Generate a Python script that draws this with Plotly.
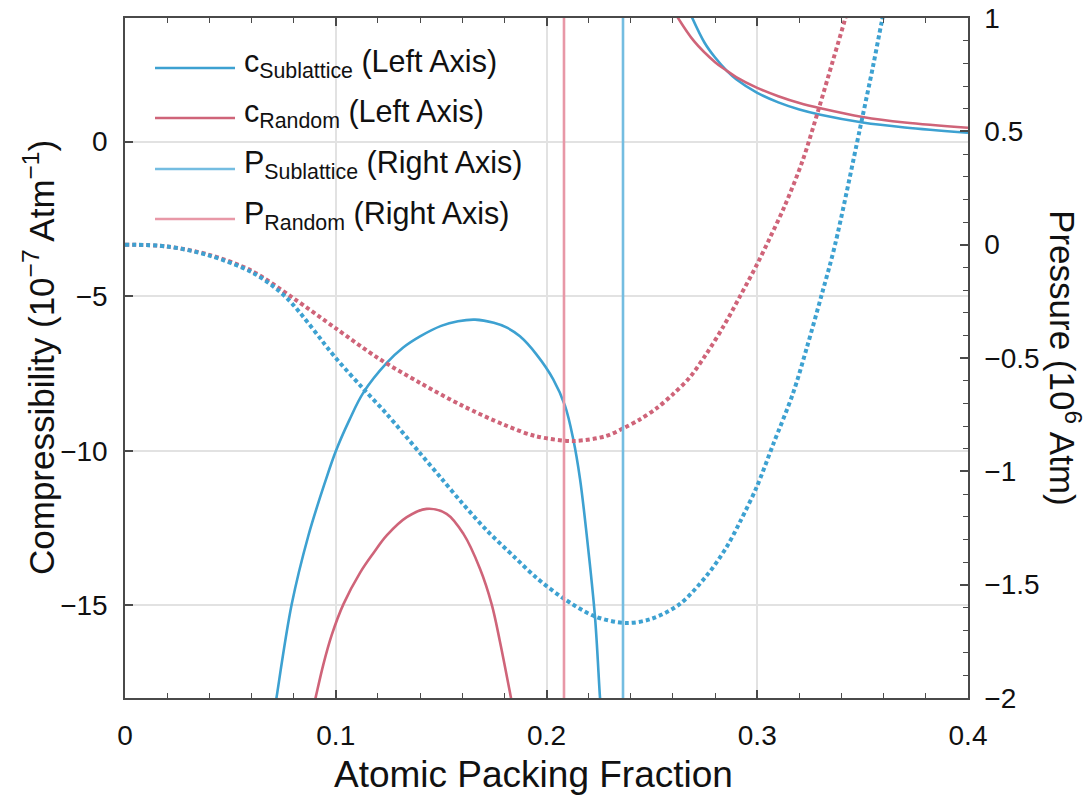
import plotly.graph_objects as go

# ---------------- data ----------------
# Compressibility, sublattice (left axis), lower branch
c_sub_lo_x = [0.0712, 0.0720, 0.0791, 0.0870, 0.0950, 0.1001, 0.1065, 0.1131, 0.1242, 0.1320, 0.1400,
              0.1500, 0.1580, 0.1661, 0.1750, 0.1810, 0.1874, 0.1953, 0.2032, 0.2088, 0.2127, 0.2159,
              0.2191, 0.2230, 0.2254, 0.2258]
c_sub_lo_y = [-18.3, -17.94, -14.97, -12.75, -11.0, -10.0, -9.0, -8.12, -7.16, -6.66, -6.30,
              -5.96, -5.81, -5.76, -5.86, -6.01, -6.30, -6.89, -7.69, -8.55, -9.63, -10.91,
              -12.74, -15.37, -18.0, -18.3]
# Compressibility, sublattice, upper branch
c_sub_hi_x = [0.2685, 0.275, 0.280, 0.2856, 0.290, 0.300, 0.310, 0.320, 0.330, 0.350, 0.370, 0.400]
c_sub_hi_y = [4.1, 3.2, 2.72, 2.29, 2.02, 1.58, 1.27, 1.04, 0.87, 0.62, 0.46, 0.29]
# Compressibility, random, lower branch
c_rnd_lo_x = [0.0894, 0.0906, 0.0941, 0.0981, 0.1036, 0.1115, 0.1180, 0.1242, 0.1337, 0.1431, 0.1526,
              0.1606, 0.1684, 0.1740, 0.1779, 0.1830, 0.1840]
c_rnd_lo_y = [-18.3, -17.94, -16.92, -15.96, -14.97, -13.95, -13.30, -12.74, -12.15, -11.88, -12.04,
              -12.69, -13.81, -14.97, -16.17, -17.94, -18.3]
# Compressibility, random, upper branch
c_rnd_hi_x = [0.2615, 0.270, 0.280, 0.2856, 0.290, 0.300, 0.310, 0.320, 0.330, 0.350, 0.370, 0.400]
c_rnd_hi_y = [4.1, 3.25, 2.57, 2.29, 2.09, 1.74, 1.47, 1.25, 1.08, 0.80, 0.62, 0.45]

# Pressure, sublattice (right axis)
p_sub_x = [0.0, 0.02, 0.04, 0.061, 0.0767, 0.100, 0.113, 0.124, 0.140, 0.150, 0.160, 0.1716,
           0.185, 0.1953, 0.208, 0.223, 0.238, 0.250, 0.2633, 0.276, 0.2854, 0.2917, 0.2997,
           0.3076, 0.317, 0.3235, 0.3306, 0.3368, 0.3487, 0.355, 0.359, 0.3615]
p_sub_y = [0.0, -0.008, -0.048, -0.126, -0.235, -0.50, -0.635, -0.745, -0.92, -1.03, -1.14, -1.26,
           -1.38, -1.47, -1.56, -1.64, -1.669, -1.65, -1.585, -1.46, -1.335, -1.225, -1.07,
           -0.88, -0.655, -0.455, -0.22, -0.005, 0.51, 0.79, 0.98, 1.09]
# Pressure, random (right axis)
p_rnd_x = [0.0, 0.02, 0.04, 0.06, 0.08, 0.10, 0.12, 0.14, 0.16, 0.18, 0.195, 0.2125, 0.228,
           0.2365, 0.2445, 0.2525, 0.260, 0.268, 0.276, 0.284, 0.292, 0.300, 0.306, 0.313,
           0.3215, 0.329, 0.336, 0.3415, 0.344]
p_rnd_y = [0.0, -0.008, -0.045, -0.115, -0.237, -0.369, -0.50, -0.61, -0.71, -0.795, -0.845,
           -0.866, -0.845, -0.81, -0.77, -0.72, -0.66, -0.585, -0.48, -0.36, -0.225, -0.085,
           0.03, 0.17, 0.37, 0.594, 0.815, 0.99, 1.08]

# Vertical pressure markers (right axis)
p_sub_vline_x = 0.2363
p_rnd_vline_x = 0.2083

x_ticks = [0, 0.1, 0.2, 0.3, 0.4]
x_tick_labels = ["0", "0.1", "0.2", "0.3", "0.4"]
left_ticks = [-15, -10, -5, 0]
left_tick_labels = ["\u221215", "\u221210", "\u22125", "0"]
right_ticks = [-2, -1.5, -1, -0.5, 0, 0.5, 1]
right_tick_labels = ["\u22122", "\u22121.5", "\u22121", "\u22120.5", "0", "0.5", "1"]

legend_labels = [
    "c<sub>Sublattice</sub> (Left Axis)",
    "c<sub>Random</sub> (Left Axis)",
    "P<sub>Sublattice</sub> (Right Axis)",
    "P<sub>Random</sub> (Right Axis)",
]

# ---------------- styling ----------------
BLUE = "#3DA1D1"
RED = "#CF6479"
LBLUE = "#74BDE1"
LPINK = "#E898A7"
FONT = "Liberation Sans, Arial, sans-serif"
AX = "#4a4a4a"
GRID = "#e2e2e2"

fig = go.Figure()

# compressibility (left axis)
for xs, ys, col in [(c_sub_lo_x, c_sub_lo_y, BLUE), (c_sub_hi_x, c_sub_hi_y, BLUE),
                    (c_rnd_lo_x, c_rnd_lo_y, RED), (c_rnd_hi_x, c_rnd_hi_y, RED)]:
    fig.add_trace(go.Scatter(x=xs, y=ys, mode="lines", yaxis="y",
                             line=dict(color=col, width=2.6, shape="spline", smoothing=1.0),
                             showlegend=False, hoverinfo="skip"))

# pressure (right axis)
for xs, ys, col in [(p_rnd_x, p_rnd_y, RED), (p_sub_x, p_sub_y, BLUE)]:
    fig.add_trace(go.Scatter(x=xs, y=ys, mode="lines", yaxis="y2",
                             line=dict(color=col, width=4, dash="4px,3px", shape="spline", smoothing=0.9),
                             showlegend=False, hoverinfo="skip"))

for vx, col in [(p_rnd_vline_x, LPINK), (p_sub_vline_x, LBLUE)]:
    fig.add_trace(go.Scatter(x=[vx, vx], y=[-2.2, 1.2], mode="lines", yaxis="y2",
                             line=dict(color=col, width=2.6), showlegend=False, hoverinfo="skip"))

# manual legend (long line samples as in the reference)
legend_colors = [BLUE, RED, LBLUE, LPINK]
legend_rows_y = [0.9265, 0.853, 0.778, 0.7044]
shapes = []
annotations = []
for lab, col, ly in zip(legend_labels, legend_colors, legend_rows_y):
    shapes.append(dict(type="line", xref="paper", yref="paper", x0=0.0356, x1=0.1305, y0=ly, y1=ly,
                       line=dict(color=col, width=2.6)))
    annotations.append(dict(text=lab, xref="paper", yref="paper", x=0.139, y=ly, xanchor="left",
                            yanchor="middle", yshift=4, showarrow=False,
                            font=dict(family=FONT, size=30.5, color="#111")))

# axis titles
annotations.append(dict(text="Atomic Packing Fraction", xref="paper", yref="paper", x=0.485, y=-0.113,
                        xanchor="center", yanchor="middle", showarrow=False,
                        font=dict(family=FONT, size=37, color="#111")))
annotations.append(dict(text="Compressibility (10<sup>\u22127</sup> Atm<sup>\u22121</sup>)", xref="paper",
                        yref="paper", x=-0.102, y=0.5, xanchor="center", yanchor="middle", textangle=-90,
                        showarrow=False, font=dict(family=FONT, size=35, color="#111")))
annotations.append(dict(text="Pressure (10<sup>6</sup> Atm)", xref="paper", yref="paper",
                        x=1.115, y=0.5, xanchor="center", yanchor="middle", textangle=90,
                        showarrow=False, font=dict(family=FONT, size=35, color="#111")))

tickfont = dict(family=FONT, size=28, color="#111")

fig.update_layout(
    width=1092, height=798,
    margin=dict(l=125, r=124, t=18, b=100, autoexpand=False),
    paper_bgcolor="white", plot_bgcolor="white",
    showlegend=False,
    shapes=shapes, annotations=annotations,
    xaxis=dict(range=[0, 0.4], tickvals=x_ticks, ticktext=x_tick_labels, ticks="inside", ticklen=8,
               tickwidth=1.5, tickcolor=AX, showline=True, linecolor=AX, linewidth=1.5, mirror="ticks",
               showgrid=True, gridcolor=GRID, gridwidth=1.5, zeroline=False, tickfont=tickfont,
               ticklabelstandoff=12, automargin=False,
               minor=dict(dtick=0.02, ticks="inside", ticklen=5, tickwidth=1.2, tickcolor=AX, showgrid=False)),
    yaxis=dict(range=[-18, 4], tickvals=left_ticks, ticktext=left_tick_labels, ticks="inside", ticklen=8,
               tickwidth=1.5, tickcolor=AX, showline=True, linecolor=AX, linewidth=1.5,
               showgrid=True, gridcolor=GRID, gridwidth=1.5, zeroline=False, tickfont=tickfont,
               ticklabelstandoff=10, automargin=False),
    yaxis2=dict(range=[-2, 1], tickvals=right_ticks, ticktext=right_tick_labels, overlaying="y", side="right",
                ticks="inside", ticklen=8, tickwidth=1.5, tickcolor=AX, showline=True, linecolor=AX,
                linewidth=1.5, showgrid=False, zeroline=False, tickfont=tickfont, ticklabelstandoff=9,
                automargin=False,
                minor=dict(dtick=0.1, ticks="inside", ticklen=5, tickwidth=1.2, tickcolor=AX, showgrid=False)),
)

fig.write_html("out.html")
